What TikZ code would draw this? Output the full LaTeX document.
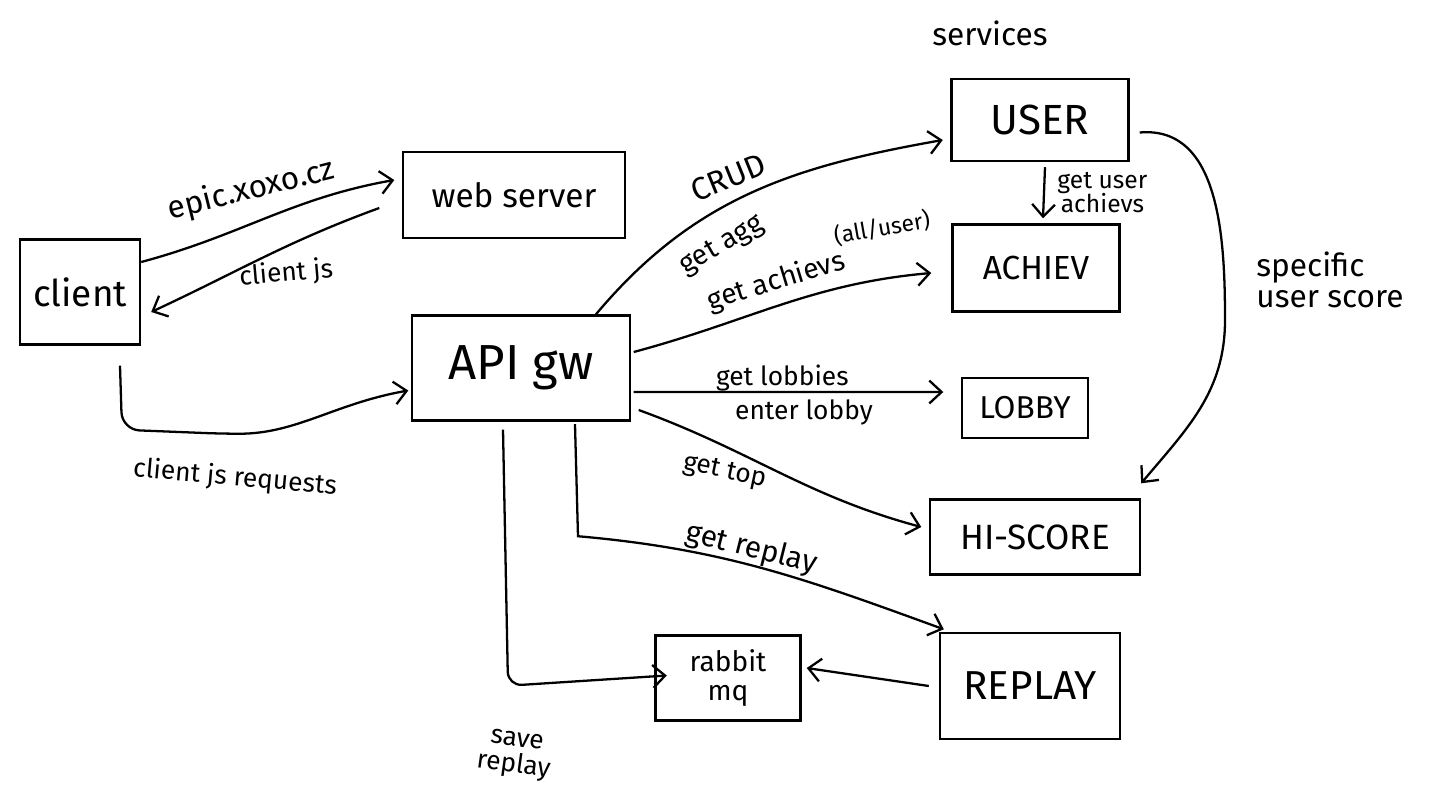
\documentclass[tikz,border=0pt]{standalone}
\usepackage{fontspec}
\setmainfont{Fira Sans}
\usepackage{tikz}
\usetikzlibrary{
  positioning,
  arrows.meta
}

\tikzset{
  box/.style={draw, line width=1.4pt, inner sep=0pt},
  flow/.style={->, line width=1.3pt},
  lbl/.style={font=\fontsize{#1}{#1}\selectfont, inner sep=1pt}
}

\begin{document}
\begin{tikzpicture}[x=0.02cm,y=-0.02cm,auto,>={Straight Barb[length=7pt,width=13pt]}]
        \useasboundingbox (0,0) rectangle (1430,809);

        % boxes
        \node[box, minimum width=2.4cm, minimum height=2.1cm, lbl=21] (client) at (80,292) {client};
        \node[box, minimum width=4.44cm, minimum height=1.72cm, lbl=19] (web) at (514,195) {web server};
        \node[box, minimum width=4.36cm, minimum height=2.1cm, lbl=28] (api) at (521,368) {API gw};
        \node[box, minimum width=3.54cm, minimum height=1.64cm, lbl=24] (user) at (1040,120) {USER};
        \node[box, minimum width=3.34cm, minimum height=1.74cm, lbl=19] (achiev) at (1036,268) {ACHIEV};
        \node[box, minimum width=2.52cm, minimum height=1.2cm, lbl=18] (lobby) at (1025,408) {LOBBY};
        \node[box, minimum width=4.2cm, minimum height=1.5cm, lbl=20] (hiscore) at (1035,537) {HI-SCORE};
        \node[box, minimum width=3.6cm, minimum height=2.12cm, lbl=23] (replay) at (1030,686) {REPLAY};
        \node[box, minimum width=2.9cm, minimum height=1.7cm, align=center, lbl=16] (rabbit) at (728,678) {rabbit\\mq};

        \node[lbl=18] (services) at (990,33) {services};

        % client side
        \draw[flow] ([yshift=0.6cm]client.east) to[out=15,in=190]
            node[lbl=18, rotate=14, pos=0.45, above=8pt] {epic.xoxo.cz} ([xshift=-0.15cm,yshift=0.3cm]web.west);
        \draw[flow] ([xshift=-0.45cm,yshift=-0.26cm]web.west) to[out=200,in=25]
            node[lbl=15, rotate=5, pos=0.4, below=6pt] {client js} ([xshift=0.2cm,yshift=-0.4cm]client.east);
        \draw[flow, rounded corners=10pt] ([xshift=0.8cm,yshift=-0.4cm]client.south) -- ++(2,64) -- ++(100,4)
            to[out=0,in=190] ([xshift=-0.05cm,yshift=-0.45cm]api.west);
        \node[lbl=15, rotate=-5] (jsreq) at (235,478) {client js requests};

        % api gw to services
        \draw[flow] ([xshift=1.5cm]api.north) to[out=50,in=190]
            node[lbl=18, rotate=22, pos=0.45, above=6pt] {CRUD} ([xshift=-0.15cm,yshift=-0.4cm]user.west);
        \node[lbl=16, rotate=30] (agg) at (722,246) {get agg};
        \draw[flow] ([xshift=0.05cm,yshift=0.32cm]api.east) to[out=15,in=185]
            node[lbl=16, rotate=17, pos=0.5, above=4pt] {get achievs} ([xshift=-0.4cm,yshift=-0.1cm]achiev.west);
        \node[lbl=13, rotate=10] (alluser) at (882,228) {(all/user)};
        \draw[flow] ([xshift=0.05cm,yshift=-0.48cm]api.east) --
            node[lbl=15, pos=0.48, above=-1pt] {get lobbies}
            node[lbl=15, pos=0.55, below=3pt] {enter lobby} ([xshift=-0.35cm,yshift=0.32cm]lobby.west);
        \draw[flow] ([xshift=0.15cm,yshift=-0.84cm]api.east) to[out=-20,in=165]
            node[lbl=15, rotate=-12, pos=0.3, below=6pt] {get top} ([xshift=-0.15cm,yshift=0.2cm]hiscore.west);
        \draw[flow] ([xshift=1.08cm,yshift=-0.05cm]api.south) -- ++(3,112) to[out=-5,in=160]
            node[lbl=17, rotate=-14, pos=0.45, above=-1pt] {get replay} ([xshift=0.1cm,yshift=0.05cm]replay.north west);
        \draw[flow, rounded corners=8pt] ([xshift=-0.36cm,yshift=-0.16cm]api.south) -- ++(5,256) -- ([xshift=0.25cm,yshift=0.05cm]rabbit.west);
        \node[lbl=15, rotate=-8, align=center] (save) at (515,755) {save\\replay};
        \draw[flow] ([xshift=-0.2cm]replay.west) -- ([xshift=0.1cm,yshift=0.2cm]rabbit.east);

        % between services
        \draw[flow] ([xshift=0.1cm,yshift=-0.1cm]user.south) --
            node[lbl=14, align=center, right=6pt] {get user\\achievs} ([xshift=0.14cm,yshift=0.1cm]achiev.north);
        \coordinate (turn) at (1225,320);
        \draw[flow] ([xshift=0.2cm,yshift=-0.25cm]user.east) to[out=5,in=90] (turn) to[out=-90,in=50] ([yshift=0.3cm]hiscore.north east);
        \node[lbl=18, align=left] (specific) at (1330,280) {specific\\user score};
    \end{tikzpicture}
\end{document}
